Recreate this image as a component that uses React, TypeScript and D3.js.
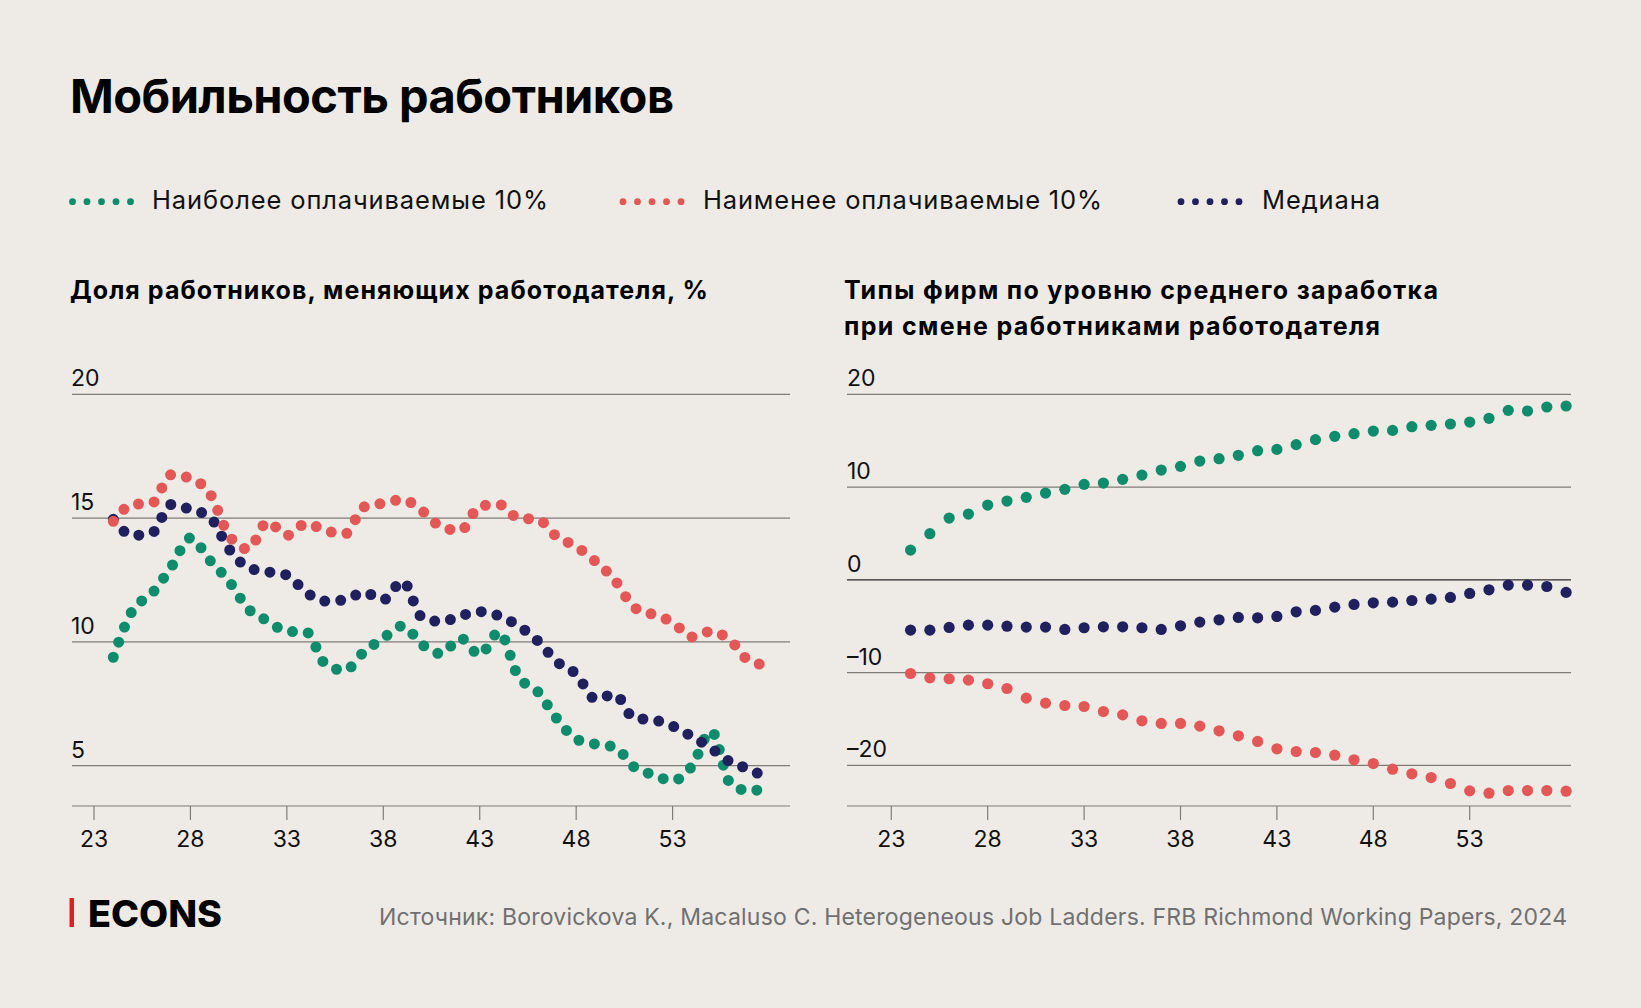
import React, { useEffect } from "react";
import * as d3 from "d3";

// ---------- data ----------
const AGES = [24, 25, 26, 27, 28, 29, 30, 31, 32, 33, 34, 35, 36, 37, 38, 39, 40, 41, 42, 43, 44, 45, 46, 47, 48, 49, 50, 51, 52, 53, 54, 55, 56, 57, 58];

// Left panel: share of workers changing employer, %
const SHARE_TOP10 = [9.38, 11.28, 11.95, 13.02, 14.2, 13.3, 12.45, 11.33, 10.85, 10.43, 10.4, 9.1, 8.85, 9.6, 10.15, 10.65, 9.9, 9.52, 10.15, 9.48, 10.4, 8.6, 8.0, 6.9, 6.08, 5.87, 5.75, 4.95, 4.63, 4.4, 4.98, 6.4, 4.28, 3.98, 4.15];
const SHARE_BOTTOM10 = [14.87, 15.55, 15.6, 16.75, 16.6, 16.0, 14.3, 13.75, 14.85, 14.3, 14.78, 14.5, 14.35, 15.45, 15.6, 15.75, 15.3, 14.65, 14.5, 15.48, 15.55, 15.0, 14.95, 14.25, 13.85, 13.25, 12.5, 11.4, 11.1, 10.8, 10.2, 10.43, 10.05, 9.22, 9.05];
const SHARE_MEDIAN = [14.95, 14.3, 14.4, 15.55, 15.35, 15.05, 13.75, 13.0, 12.83, 12.7, 12.0, 11.65, 11.7, 12.0, 11.7, 12.45, 11.0, 10.82, 11.05, 11.22, 11.05, 10.65, 10.05, 9.2, 8.7, 7.7, 7.88, 6.92, 6.85, 6.6, 6.18, 5.7, 5.15, 4.85, 4.45];

// Right panel: firm types by average pay when changing employer
const FIRM_TOP10 = [3.2, 4.97, 6.66, 7.09, 8.06, 8.49, 8.89, 9.35, 9.75, 10.29, 10.43, 10.83, 11.29, 11.83, 12.23, 12.8, 13.06, 13.42, 13.92, 14.06, 14.57, 15.11, 15.47, 15.75, 16.04, 16.11, 16.51, 16.65, 16.8, 17.01, 17.41, 18.27, 18.2, 18.63, 18.74];
const FIRM_MEDIAN = [-5.43, -5.43, -5.14, -4.89, -4.89, -5.0, -5.1, -5.1, -5.35, -5.17, -5.07, -5.07, -5.17, -5.35, -4.96, -4.56, -4.31, -4.06, -4.1, -3.95, -3.45, -3.3, -2.95, -2.66, -2.48, -2.41, -2.23, -2.08, -1.9, -1.47, -1.08, -0.57, -0.57, -0.72, -1.36];
const FIRM_BOTTOM10 = [-10.1, -10.57, -10.67, -10.82, -11.21, -11.72, -12.76, -13.3, -13.55, -13.66, -14.2, -14.56, -15.2, -15.49, -15.49, -15.78, -16.28, -16.82, -17.43, -18.22, -18.51, -18.62, -18.91, -19.41, -19.81, -20.42, -20.92, -21.32, -21.96, -22.76, -23.01, -22.72, -22.72, -22.72, -22.79];

const X_TICKS = [23, 28, 33, 38, 43, 48, 53];
const LEFT_Y_TICKS = [5, 10, 15, 20];
const RIGHT_Y_TICKS = [-20, -10, 0, 10, 20];

const TITLE = "Мобильность работников";
const LEGEND = ["Наиболее оплачиваемые 10%", "Наименее оплачиваемые 10%", "Медиана"];
const LEFT_SUBTITLE = "Доля работников, меняющих работодателя, %";
const RIGHT_SUBTITLE = ["Типы фирм по уровню среднего заработка", "при смене работниками работодателя"];
const SOURCE = "Источник: Borovickova K., Macaluso C. Heterogeneous Job Ladders. FRB Richmond Working Papers, 2024";
const BRAND = "ECONS";

// ---------- style ----------
const W = 1641;
const H = 1008;
const BG = "#EEEBE6";
const GREEN = "#0E8C6C";
const RED = "#E35757";
const NAVY = "#20205E";
const GRID = "#7f7c77";
const FONT = "Inter, 'Noto Sans', sans-serif";

const legendColors = [GREEN, RED, NAVY];
const fmt = (d: number) => (d < 0 ? `–${-d}` : `${d}`);

export default function App() {
  useEffect(() => {
    document.body.style.margin = "0";
    document.body.style.background = BG;
  }, []);

  // Left panel scales
  const xL = d3.scaleLinear().domain([23, 53]).range([94, 672.6]);
  const yL = d3.scaleLinear().domain([5, 20]).range([765.7, 394.3]);
  // Right panel scales
  const xR = d3.scaleLinear().domain([23, 53]).range([891.3, 1469.7]);
  const yR = d3.scaleLinear().domain([-20, 20]).range([765.3, 394.3]);

  const leftSeries = [
    { vals: SHARE_TOP10, color: GREEN },
    { vals: SHARE_MEDIAN, color: NAVY },
    { vals: SHARE_BOTTOM10, color: RED },
  ];
  const rightSeries = [
    { vals: FIRM_TOP10, color: GREEN },
    { vals: FIRM_MEDIAN, color: NAVY },
    { vals: FIRM_BOTTOM10, color: RED },
  ];

  const lineL = (vals: number[]) =>
    d3
      .line<number>()
      .x((_, i) => xL(AGES[i]))
      .y((v) => yL(v))
      .curve(d3.curveMonotoneX)(vals) || "";

  const leftGrid = { x1: 72, x2: 790 };
  const rightGrid = { x1: 847, x2: 1571 };
  const axisY = 806;

  const legendItems = [
    { dotX: 72.5, textX: 152, width: 396 },
    { dotX: 623, textX: 703, width: 399 },
    { dotX: 1181, textX: 1262, width: 118 },
  ];

  return (
    <svg width={W} height={H} viewBox={`0 0 ${W} ${H}`} style={{ display: "block", background: BG }} fontFamily={FONT}>
      <rect x={0} y={0} width={W} height={H} fill={BG} />

      {/* Title */}
      <text x={70} y={112.5} fontSize={47} fontWeight={700} fill="#000" textLength={604} lengthAdjust="spacing">
        {TITLE}
      </text>

      {/* Legend */}
      {legendItems.map((it, k) => (
        <g key={k}>
          {d3.range(5).map((j) => (
            <circle key={j} cx={it.dotX + j * 14.5} cy={201.7} r={3.4} fill={legendColors[k]} />
          ))}
          <text x={it.textX} y={208.5} fontSize={25.5} fill="#111" textLength={it.width} lengthAdjust="spacing">
            {LEGEND[k]}
          </text>
        </g>
      ))}

      {/* Subtitles */}
      <text x={70} y={299} fontSize={25} fontWeight={700} fill="#000" textLength={638} lengthAdjust="spacing">
        {LEFT_SUBTITLE}
      </text>
      {RIGHT_SUBTITLE.map((s, i) => (
        <text key={i} x={844} y={299 + i * 36} fontSize={25} fontWeight={700} fill="#000" textLength={i === 0 ? 594 : 536} lengthAdjust="spacing">
          {s}
        </text>
      ))}

      {/* Left panel */}
      <g>
        {LEFT_Y_TICKS.map((t) => (
          <g key={t}>
            <line x1={leftGrid.x1} x2={leftGrid.x2} y1={yL(t)} y2={yL(t)} stroke={GRID} strokeWidth={1.2} />
            <text x={71} y={yL(t) - 8} fontSize={23} fill="#111">
              {fmt(t)}
            </text>
          </g>
        ))}
        <line x1={leftGrid.x1} x2={leftGrid.x2} y1={axisY} y2={axisY} stroke={GRID} strokeWidth={1.2} />
        {X_TICKS.map((t) => (
          <g key={t}>
            <line x1={xL(t)} x2={xL(t)} y1={axisY} y2={axisY + 14} stroke={GRID} strokeWidth={1.2} />
            <text x={xL(t)} y={847} fontSize={23} fill="#111" textAnchor="middle">
              {t}
            </text>
          </g>
        ))}
        {leftSeries.map((s, i) => (
          <path
            key={i}
            d={lineL(s.vals)}
            fill="none"
            stroke={s.color}
            strokeWidth={11}
            strokeLinecap="round"
            strokeDasharray="0 16"
          />
        ))}
      </g>

      {/* Right panel */}
      <g>
        {RIGHT_Y_TICKS.map((t) => (
          <g key={t}>
            <line
              x1={rightGrid.x1}
              x2={rightGrid.x2}
              y1={yR(t)}
              y2={yR(t)}
              stroke={t === 0 ? "#2a2a2a" : GRID}
              strokeWidth={1.2}
            />
            <text x={847} y={yR(t) - 8} fontSize={23} fill="#111">
              {fmt(t)}
            </text>
          </g>
        ))}
        <line x1={rightGrid.x1} x2={rightGrid.x2} y1={axisY} y2={axisY} stroke={GRID} strokeWidth={1.2} />
        {X_TICKS.map((t) => (
          <g key={t}>
            <line x1={xR(t)} x2={xR(t)} y1={axisY} y2={axisY + 14} stroke={GRID} strokeWidth={1.2} />
            <text x={xR(t)} y={847} fontSize={23} fill="#111" textAnchor="middle">
              {t}
            </text>
          </g>
        ))}
        {rightSeries.map((s, i) => (
          <g key={i}>
            {s.vals.map((v, j) => (
              <circle key={j} cx={xR(AGES[j])} cy={yR(v)} r={5.6} fill={s.color} />
            ))}
          </g>
        ))}
      </g>

      {/* Footer */}
      <rect x={69.5} y={898} width={4.5} height={29} fill="#E0201F" />
      <text x={88} y={926.5} fontSize={37} fontWeight={800} fill="#000" textLength={134} lengthAdjust="spacingAndGlyphs">
        {BRAND}
      </text>
      <text x={1567} y={925} fontSize={23} fill="#707070" textAnchor="end" textLength={1188} lengthAdjust="spacing">
        {SOURCE}
      </text>
    </svg>
  );
}
